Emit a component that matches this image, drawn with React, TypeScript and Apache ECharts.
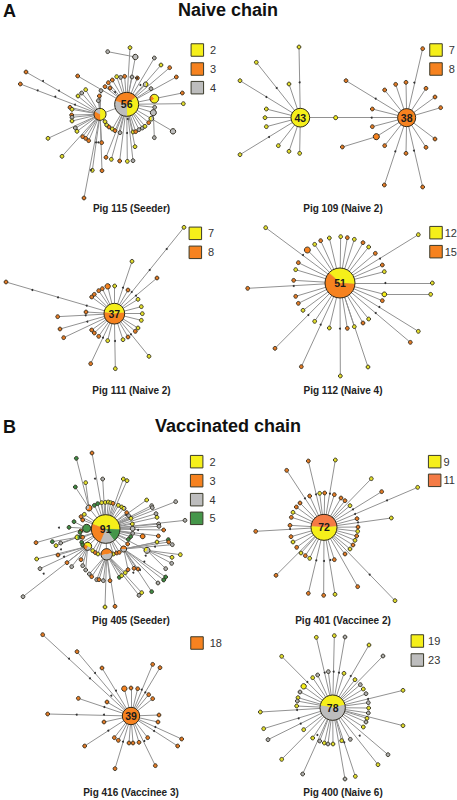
import React, { useEffect, useRef } from "react";
import * as echarts from "echarts";

const Y = "#f5ef1a", O = "#f6821f", G = "#bdbdbd", S = "#45964a", R = "#f47b45";
const BORDER = "#2e2a1e";
const FONT = '"Liberation Sans", Arial, sans-serif';
const smallTone: Record<string, string> = { [Y]: "#e2de2c", [O]: "#e27a26", [G]: "#adadad", [S]: "#3f8a45" };

// Every panel has its own hidden axes; values are read in that panel's reference frame.
// Hub: [x, y, radius, start angle clockwise from top, slices, label]
// Leaf: [x, y, colour, parent hub, radius]
const p1Hubs: any[] = [
  [380, 313, 36, 50, [[Y, 20], [G, 17], [O, 19]], "56"],
  [300, 343, 18, 0, [[Y, 6], [O, 4], [G, 2]], ""],
  [463, 296, 13, -130, [[O, 1], [Y, 3]], ""],
  [460, 338, 9, 0, [[G, 1]], ""],
  [519, 394, 8, 0, [[G, 1]], ""],
  [406, 171, 8, 0, [[G, 1]], ""],
  [437, 253, 7, 0, [[Y, 1], [G, 1]], ""],
  [454, 356, 7, 0, [[G, 1], [Y, 1]], ""],
];
const p1HubLinks = [[0, 1], [0, 2], [0, 3], [0, 5], [0, 6], [0, 7], [7, 4]];
const p1Leaves: any[] = [
  [78, 216, O, 1], [61, 252, O, 1], [233, 228, O, 0], [323, 155, G, 5], [390, 143, Y, 0], [463, 174, G, 0], [483, 195, Y, 0],
  [509, 203, O, 0], [529, 231, O, 0], [547, 279, O, 2], [550, 311, Y, 0], [350, 230, Y, 0], [362, 232, G, 0], [374, 229, O, 0],
  [396, 231, G, 0], [412, 234, O, 0], [337, 240, O, 0], [325, 248, O, 0], [315, 260, O, 0], [330, 264, O, 0], [303, 272, G, 1],
  [298, 288, O, 1], [295, 302, G, 1], [245, 279, G, 1], [257, 269, Y, 1], [234, 288, Y, 1], [453, 266, G, 0], [210, 322, O, 1],
  [216, 328, Y, 1], [215, 345, O, 1], [216, 352, G, 1], [216, 363, Y, 1], [226, 384, G, 1], [231, 394, Y, 1], [144, 415, Y, 1],
  [186, 469, Y, 1], [248, 410, O, 1], [257, 415, O, 1], [266, 422, O, 1], [305, 428, O, 1], [277, 511, Y, 1], [306, 512, O, 1],
  [252, 594, O, 1], [315, 365, Y, 1], [320, 375, Y, 1], [327, 381, O, 1], [337, 387, Y, 0], [345, 392, O, 0], [360, 398, G, 0],
  [399, 396, Y, 0], [407, 395, O, 0], [417, 389, G, 0], [427, 384, G, 0], [435, 379, Y, 0], [446, 368, O, 0], [463, 413, G, 3],
  [464, 322, G, 0], [405, 440, Y, 0], [399, 482, G, 0], [382, 484, Y, 0], [359, 483, O, 0], [334, 478, Y, 0], [318, 472, O, 0],
];
const p1Ticks = [[129, 243], [177, 272], [113, 271], [166, 290], [225, 314], [295, 427], [273, 510], [383, 357], [381, 399], [345, 276], [421, 255], [411, 234], [288, 427]];
const p1Legend: any[] = [[592, 150, Y, "2"], [592, 207, O, "3"], [592, 263, G, "4"]];

const p2Hubs: any[] = [
  [217, 353, 28, 0, [[Y, 1]], "43"],
  [536, 353, 27, 0, [[O, 1]], "38"],
  [323, 353, 6, 0, [[Y, 1]], ""],
  [445, 410, 9, 0, [[O, 1]], ""],
];
const p2HubLinks = [[0, 2], [1, 2], [1, 3]];
const p2Leaves: any[] = [
  [213, 141, Y, 0], [85, 187, Y, 0], [36, 242, Y, 0], [183, 252, Y, 0], [115, 327, Y, 0], [111, 353, Y, 0], [115, 380, Y, 0],
  [36, 464, Y, 0], [151, 437, Y, 0], [183, 454, Y, 0], [215, 460, Y, 0], [343, 441, O, 3], [354, 242, O, 1], [470, 270, O, 1],
  [503, 253, O, 1], [534, 247, O, 1], [584, 146, O, 1], [594, 265, O, 1], [621, 291, O, 1], [638, 323, O, 1], [433, 327, O, 1],
  [433, 380, O, 1], [470, 437, O, 1], [469, 555, O, 1], [534, 460, O, 1], [584, 561, O, 1], [594, 442, O, 1], [621, 417, O, 1],
];
const p2Ticks = [[146, 264], [115, 291], [215, 247], [123, 411], [443, 296], [431, 353], [559, 248], [502, 454], [558, 452]];
const p2Legend: any[] = [[624, 150, Y, "7"], [624, 207, O, "8"]];

const p3Hubs: any[] = [[343, 311, 31, -82, [[Y, 17], [O, 20]], "37"]];
const p3HubLinks: number[][] = [];
const p3Leaves: any[] = [
  [552, 52, Y, 0], [396, 154, Y, 0], [471, 204, O, 0], [18, 216, O, 0], [344, 228, Y, 0], [323, 229, O, 0, 8], [307, 236, O, 0],
  [296, 242, O, 0], [283, 253, O, 0], [275, 261, O, 0], [384, 240, O, 0], [414, 268, Y, 0], [424, 290, Y, 0], [427, 311, Y, 0],
  [424, 331, Y, 0], [414, 354, Y, 0], [406, 364, O, 0], [384, 381, O, 0], [369, 389, Y, 0], [323, 392, Y, 0], [296, 379, O, 0],
  [283, 369, O, 0], [275, 360, O, 0], [258, 306, O, 0], [173, 320, O, 0], [180, 357, O, 0], [191, 383, O, 0], [272, 461, O, 0],
  [346, 476, Y, 0], [447, 439, Y, 0],
];
const p3Ticks = [[97, 240], [174, 262], [260, 287], [257, 316], [262, 335], [309, 383], [345, 393], [393, 373], [408, 257], [449, 180], [500, 117], [395, 246], [369, 233]];
const p3Legend: any[] = [[586, 70, Y, "7"], [586, 127, O, "8"]];

const p4Hubs: any[] = [
  [336, 219, 45, -47, [[Y, 20], [O, 31]], "51"],
  [469, 253, 7, 0, [[Y, 1]], ""],
];
const p4HubLinks = [[0, 1]];
const p4Leaves: any[] = [
  [113, 53, Y, 0], [571, 74, Y, 0], [304, 84, Y, 0], [338, 80, Y, 0], [358, 83, O, 0], [379, 88, Y, 0], [278, 92, O, 0], [260, 103, Y, 0],
  [238, 120, O, 0, 9], [405, 98, O, 0], [422, 111, Y, 0], [442, 130, O, 0], [463, 165, O, 0], [469, 185, Y, 0], [211, 158, O, 0],
  [203, 179, Y, 0], [197, 211, O, 0], [59, 235, O, 0], [613, 219, Y, 0], [608, 253, Y, 1], [463, 272, O, 0], [203, 259, O, 0],
  [211, 280, O, 0], [225, 301, Y, 0], [260, 334, Y, 0], [304, 354, Y, 0], [358, 355, O, 0], [379, 350, Y, 0], [405, 339, O, 0],
  [422, 327, Y, 0], [571, 364, Y, 0], [547, 397, O, 0], [141, 415, O, 0], [220, 470, O, 0], [337, 498, Y, 0], [420, 471, Y, 0],
];
const p4Ticks = [[225, 135], [197, 228], [472, 219], [456, 146], [454, 291], [443, 309], [241, 315], [278, 344], [336, 356]];
const p4Legend: any[] = [[624, 68, Y, "12"], [624, 125, O, "15"]];

const p5Hubs: any[] = [
  [317, 387, 43, -70, [[Y, 41], [S, 13], [G, 15], [O, 22]], "91"],
  [320, 463, 17, -100, [[O, 1], [G, 1]], ""],
  [263, 439, 12, -60, [[Y, 2], [G, 1], [O, 1]], ""],
  [371, 447, 9, -90, [[O, 1], [G, 1]], ""],
  [441, 451, 9, 0, [[G, 2], [Y, 1]], ""],
  [260, 385, 12, 0, [[S, 1]], ""],
  [267, 324, 9, 0, [[O, 2], [G, 1]], ""],
  [372, 325, 6, 0, [[G, 1], [Y, 1]], ""],
  [398, 386, 7, 0, [[G, 1]], ""],
  [428, 409, 7, 0, [[O, 1]], ""],
  [232, 412, 7, 0, [[S, 1], [Y, 1]], ""],
];
const p5HubLinks = [[0, 1], [0, 2], [0, 3], [0, 4], [0, 5], [0, 6], [0, 7], [0, 8], [0, 9], [2, 10]];
const p5Leaves: any[] = [
  [276, 159, O, 0], [229, 175, S, 6], [257, 248, Y, 6], [308, 237, G, 0], [370, 237, Y, 0], [381, 242, Y, 0], [226, 261, S, 6],
  [440, 300, Y, 0], [527, 305, G, 0], [455, 317, G, 0], [457, 323, G, 0], [468, 341, G, 0], [471, 352, Y, 0], [555, 361, G, 0],
  [476, 372, G, 0], [477, 379, G, 0], [491, 390, O, 0], [475, 408, O, 0], [505, 419, S, 3], [506, 426, O, 3], [517, 434, G, 3],
  [471, 426, Y, 3], [516, 472, Y, 4], [541, 464, Y, 4], [515, 490, G, 4], [497, 506, G, 4], [497, 531, S, 3], [491, 540, S, 3],
  [474, 549, G, 3], [455, 575, S, 3], [425, 578, Y, 1], [417, 586, G, 1], [414, 507, O, 3], [402, 505, O, 3], [345, 619, O, 1],
  [315, 621, Y, 1], [69, 590, G, 2], [110, 477, Y, 2], [120, 506, G, 2], [108, 428, O, 5], [157, 425, S, 10], [168, 437, Y, 10],
  [182, 429, G, 10], [174, 465, O, 2], [201, 488, O, 2], [215, 500, G, 2], [243, 479, O, 2], [248, 497, G, 2], [257, 510, G, 2],
  [268, 522, G, 1], [275, 530, O, 1], [290, 539, G, 1], [297, 539, O, 1], [310, 542, G, 1], [330, 542, O, 1], [358, 532, S, 1],
  [365, 527, Y, 1], [376, 518, Y, 1], [384, 509, O, 3], [222, 365, S, 5], [207, 382, S, 5], [248, 360, O, 0], [243, 350, O, 0],
  [253, 343, Y, 0], [283, 316, S, 0], [293, 311, S, 0], [305, 308, Y, 0], [316, 307, Y, 0], [325, 306, Y, 0], [332, 308, Y, 0],
  [339, 310, O, 0], [355, 316, Y, 0], [365, 321, Y, 0], [380, 338, O, 0], [386, 347, G, 0], [393, 355, Y, 0], [397, 372, Y, 0],
  [398, 400, G, 0], [392, 410, S, 0], [385, 418, S, 0], [383, 432, O, 0], [242, 393, O, 0], [240, 397, S, 0], [243, 410, S, 0],
  [248, 412, O, 0], [245, 427, S, 0], [248, 435, S, 0], [278, 452, Y, 0], [286, 458, O, 0], [294, 462, Y, 0], [340, 462, Y, 0],
  [350, 459, O, 0], [358, 457, O, 0],
];
const p5Ticks = [[177, 383], [183, 448], [192, 470], [131, 521], [285, 236], [414, 390], [433, 485], [465, 440], [437, 467], [400, 518], [378, 345], [420, 510]];
const p5Legend: any[] = [[590, 185, Y, "2"], [590, 242, O, "3"], [590, 299, G, "4"], [590, 355, S, "5"]];

const p6Hubs: any[] = [[288, 382, 39, -85, [[R, 34], [Y, 38]], "72"]];
const p6HubLinks: number[][] = [];
const p6Leaves: any[] = [
  [241, 183, O, 0], [322, 180, Y, 0], [176, 211, O, 0], [430, 236, Y, 0], [461, 275, O, 0], [569, 262, Y, 0], [275, 280, Y, 0],
  [290, 279, O, 0], [245, 288, O, 0], [319, 284, O, 0], [339, 294, O, 0], [351, 302, O, 0], [366, 317, Y, 0], [216, 309, O, 0],
  [205, 321, O, 0], [195, 337, Y, 0], [190, 352, O, 0], [186, 376, O, 0], [83, 394, O, 0], [387, 356, O, 0], [490, 354, Y, 0],
  [390, 381, O, 0], [389, 394, Y, 0], [386, 408, O, 0], [381, 421, Y, 0], [375, 435, O, 0], [366, 447, Y, 0], [351, 462, O, 0],
  [319, 479, O, 0], [189, 410, O, 0], [195, 426, Y, 0], [206, 442, O, 0], [219, 459, Y, 0], [232, 467, O, 0], [245, 475, Y, 0],
  [144, 526, O, 0], [241, 580, O, 0], [287, 586, O, 0], [321, 583, Y, 0], [389, 560, O, 0], [501, 602, Y, 0],
];
const p6Ticks = [[231, 295], [375, 328], [381, 342], [477, 301], [390, 367], [186, 387], [265, 481], [288, 483], [307, 480], [425, 524], [264, 283], [306, 281]];
const p6Legend: any[] = [[620, 185, Y, "9"], [620, 241, R, "11"]];

const p7Hubs: any[] = [[393, 333, 26, 0, [[O, 1]], "39"]];
const p7HubLinks: number[][] = [];
const p7Leaves: any[] = [
  [128, 89, O, 0], [231, 140, O, 0], [306, 189, O, 0], [458, 178, O, 0], [480, 188, O, 0], [373, 251, O, 0, 8], [393, 249, O, 0],
  [413, 251, O, 0], [446, 269, O, 0], [458, 281, O, 0], [235, 280, O, 0], [321, 291, O, 0], [143, 327, O, 0], [312, 351, O, 0],
  [477, 330, O, 0], [474, 351, O, 0], [545, 402, O, 0], [533, 423, O, 0], [254, 423, O, 0], [343, 398, O, 0], [355, 406, O, 0],
  [387, 414, O, 0], [399, 414, O, 0], [417, 412, O, 0], [443, 398, O, 0], [345, 491, O, 0], [466, 482, O, 0],
];
const p7Ticks = [[207, 161], [270, 220], [285, 204], [348, 257], [425, 254], [436, 262], [334, 272], [313, 306], [230, 329], [312, 329], [325, 377], [369, 410], [433, 408], [462, 378], [466, 366]];
const p7Legend: any[] = [[591, 114, O, "18"]];

const p8Hubs: any[] = [[314, 308, 38, -80, [[Y, 34], [G, 44]], "78"]];
const p8HubLinks: number[][] = [];
const p8Leaves: any[] = [
  [265, 97, Y, 0], [319, 92, Y, 0], [351, 96, G, 0], [423, 120, Y, 0], [465, 153, G, 0], [161, 154, Y, 0], [525, 256, Y, 0],
  [525, 362, Y, 0], [97, 321, Y, 0], [107, 371, Y, 0], [120, 404, G, 0], [161, 463, Y, 0], [224, 507, G, 0], [351, 522, G, 0],
  [382, 514, Y, 0], [450, 479, Y, 0], [480, 449, G, 0], [269, 210, G, 0], [254, 218, Y, 0], [301, 200, G, 0], [348, 205, Y, 0],
  [381, 224, Y, 0], [397, 239, G, 0], [406, 252, Y, 0], [414, 266, G, 0], [227, 244, Y, 0, 8], [216, 261, G, 0], [210, 278, Y, 0],
  [208, 288, G, 0], [206, 303, Y, 0], [421, 293, G, 0], [422, 309, Y, 0], [421, 324, G, 0], [417, 340, Y, 0], [414, 351, G, 0],
  [406, 366, Y, 0], [227, 374, Y, 0], [254, 399, Y, 0], [275, 408, G, 0], [289, 414, Y, 0], [300, 417, G, 0], [315, 417, Y, 0],
  [341, 407, Y, 0], [367, 403, G, 0],
];
const p8Ticks = [[290, 203], [317, 200], [333, 203], [368, 213], [238, 231], [420, 282], [207, 315], [212, 340], [218, 356], [268, 390], [349, 412], [395, 392]];
const p8Legend: any[] = [[568, 108, Y, "19"], [568, 165, G, "23"]];

const headings: any[] = [
  ["A", 3, 11, "start", 18], ["Naive chain", 228, 10, "center", 18],
  ["B", 3, 427, "start", 18], ["Vaccinated chain", 228, 426, "center", 18],
];
const captions: any[] = [
  ["Pig 115 (Seeder)", 131.5, 208], ["Pig 109 (Naive 2)", 343, 208],
  ["Pig 111 (Naive 2)", 131.5, 390], ["Pig 112 (Naive 4)", 343, 390],
  ["Pig 405 (Seeder)", 131, 620], ["Pig 401 (Vaccinee 2)", 343, 620],
  ["Pig 416 (Vaccinee 3)", 131, 792], ["Pig 400 (Naive 6)", 343, 792],
];

const panels: any[] = [
  { left: 0, top: 0, w: 230, h: 215, gap: 6, hubs: p1Hubs, hubLinks: p1HubLinks, leaves: p1Leaves, ticks: p1Ticks, legend: p1Legend },
  { left: 228, top: 0, w: 229, h: 215, gap: 6, hubs: p2Hubs, hubLinks: p2HubLinks, leaves: p2Leaves, ticks: p2Ticks, legend: p2Legend },
  { left: 0, top: 210, w: 230, h: 190, gap: 6, hubs: p3Hubs, hubLinks: p3HubLinks, leaves: p3Leaves, ticks: p3Ticks, legend: p3Legend },
  { left: 228, top: 210, w: 229, h: 190, gap: 2, hubs: p4Hubs, hubLinks: p4HubLinks, leaves: p4Leaves, ticks: p4Ticks, legend: p4Legend },
  { left: 0, top: 400, w: 230, h: 215, gap: 6, hubs: p5Hubs, hubLinks: p5HubLinks, leaves: p5Leaves, ticks: p5Ticks, legend: p5Legend },
  { left: 228, top: 400, w: 229, h: 215, gap: 2, hubs: p6Hubs, hubLinks: p6HubLinks, leaves: p6Leaves, ticks: p6Ticks, legend: p6Legend },
  { left: 0, top: 605, w: 230, h: 195, gap: 6, hubs: p7Hubs, hubLinks: p7HubLinks, leaves: p7Leaves, ticks: p7Ticks, legend: p7Legend },
  { left: 228, top: 605, w: 229, h: 195, gap: 4, hubs: p8Hubs, hubLinks: p8HubLinks, leaves: p8Leaves, ticks: p8Ticks, legend: p8Legend },
];

function panelSeries(p: any, i: number): any[] {
  const axes = { xAxisIndex: i, yAxisIndex: i };
  const hubCount = p.hubs.length;
  const graphNodes = [
    ...p.hubs.map((h: any) => ({ value: [h[0], h[1]], symbolSize: 0 })),
    ...p.leaves.map((l: any) => ({
      value: [l[0], l[1]],
      symbolSize: l[4] ? (l[4] / 3) * 2 : 3.8,
      itemStyle: { color: l[4] ? l[2] : smallTone[l[2]] || l[2], borderColor: BORDER, borderWidth: 0.9, opacity: 1 },
    })),
  ];
  const links = [
    ...p.hubLinks.map((l: number[]) => ({ source: l[0], target: l[1] })),
    ...p.leaves.map((l: any, k: number) => ({ source: l[3], target: hubCount + k })),
  ];
  return [
    {
      type: "graph",
      ...axes,
      coordinateSystem: "cartesian2d",
      layout: "none",
      silent: true,
      z: 2,
      symbol: "circle",
      data: graphNodes,
      links,
      lineStyle: { color: "#929292", width: 1, opacity: 1, curveness: 0 },
      label: { show: false },
    },
    {
      type: "scatter",
      ...axes,
      silent: true,
      z: 3,
      symbolSize: 2,
      itemStyle: { color: "#333", opacity: 1 },
      data: p.ticks,
    },
    {
      type: "custom",
      ...axes,
      silent: true,
      z: 4,
      clip: false,
      encode: { x: 0, y: 1 },
      data: p.hubs.map((h: any) => [h[0], h[1]]),
      renderItem: (params: any, api: any) => {
        const h = p.hubs[params.dataIndex];
        const c = api.coord([api.value(0), api.value(1)]);
        const r = h[2] / 3;
        const total = h[4].reduce((s: number, e: any) => s + e[1], 0);
        let a = ((h[3] - 90) * Math.PI) / 180;
        const children: any[] = h[4].map((e: any) => {
          const end = a + (e[1] / total) * Math.PI * 2;
          const el = {
            type: "sector",
            shape: { cx: c[0], cy: c[1], r, r0: 0, startAngle: a, endAngle: end, clockwise: true },
            style: { fill: e[0], stroke: e[0], lineWidth: 0.2 },
          };
          a = end;
          return el;
        });
        children.push({
          type: "circle",
          shape: { cx: c[0], cy: c[1], r },
          style: { fill: "none", stroke: BORDER, lineWidth: 1 },
        });
        if (h[5]) {
          children.push({
            type: "text",
            style: {
              text: h[5], x: c[0], y: c[1], align: "center", verticalAlign: "middle",
              font: `bold 10.5px ${FONT}`, fill: "#1a1a1a",
            },
          });
        }
        return { type: "group", children };
      },
    },
    {
      type: "scatter",
      ...axes,
      silent: true,
      z: 3,
      symbol: "rect",
      symbolSize: 12.5,
      data: p.legend.map((l: any) => ({
        value: [l[0], l[1]],
        itemStyle: { color: l[2], borderColor: "#3a3a2a", borderWidth: 1, opacity: 1 },
        label: {
          show: true, position: "right", distance: p.gap, formatter: l[3],
          color: "#333", fontFamily: FONT, fontSize: 11,
        },
      })),
    },
  ];
}

export default function App() {
  const ref = useRef<HTMLDivElement>(null);
  useEffect(() => {
    document.body.style.margin = "0";
    document.body.style.background = "#fff";
    const chart = echarts.init(ref.current!, undefined, { renderer: "svg" });
    chart.setOption({
      animation: false,
      backgroundColor: "#fff",
      grid: panels.map((p) => ({ left: p.left, top: p.top, width: p.w, height: p.h, containLabel: false })),
      xAxis: panels.map((p, i) => ({ type: "value", gridIndex: i, min: 0, max: p.w * 3, show: false })),
      yAxis: panels.map((p, i) => ({ type: "value", gridIndex: i, min: 0, max: p.h * 3, inverse: true, show: false })),
      series: panels.flatMap((p, i) => panelSeries(p, i)),
      graphic: [
        ...headings.map((t) => ({
          type: "text", x: t[1], y: t[2], z: 10,
          style: { text: t[0], align: t[3] === "start" ? "left" : "center", verticalAlign: "middle", font: `bold ${t[4]}px ${FONT}`, fill: "#111" },
        })),
        ...captions.map((t) => ({
          type: "text", x: t[1], y: t[2], z: 10,
          style: { text: t[0], align: "center", verticalAlign: "middle", font: `bold 10px ${FONT}`, fill: "#222" },
        })),
      ],
    });
    return () => chart.dispose();
  }, []);
  return <div ref={ref} style={{ width: 457, height: 800 }} />;
}
